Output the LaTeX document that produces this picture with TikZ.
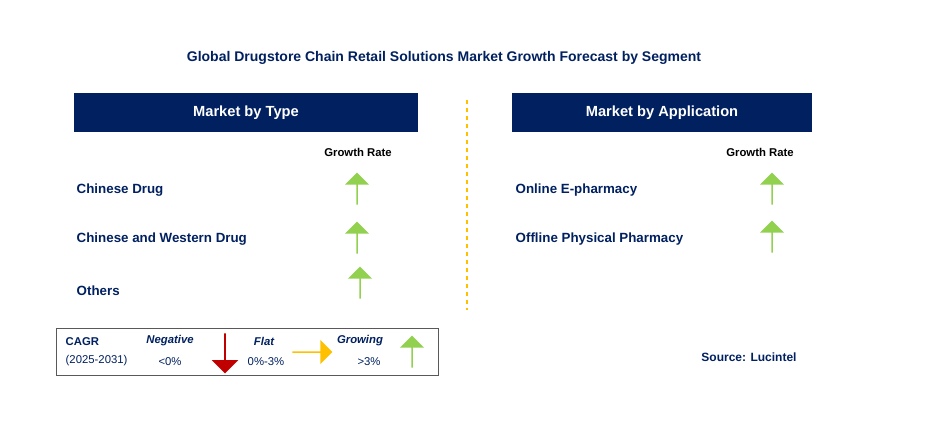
\documentclass[tikz,border=0pt]{standalone}
\usepackage{fontspec}
\setmainfont{Liberation Sans}
\usetikzlibrary{shapes.arrows}
\definecolor{navy}{RGB}{0,32,96}
\definecolor{upgreen}{RGB}{146,208,80}
\definecolor{downred}{RGB}{192,0,0}
\definecolor{flatyellow}{RGB}{255,192,0}
\tikzset{
  header/.style={fill=navy,text=white,font=\bfseries\fontsize{11}{13}\selectfont},
  item/.style={anchor=west,text=navy,font=\bfseries\fontsize{10}{12}\selectfont},
  rate/.style={text=black,font=\bfseries\fontsize{8.5}{10}\selectfont},
  uparrow/.style={single arrow,fill=upgreen,draw=none,rotate=90,minimum height=24pt,minimum width=18pt,single arrow head extend=3pt,inner sep=0pt},
  legend/.style={text=navy,font=\fontsize{8.5}{10}\selectfont},
  legendhead/.style={text=navy,font=\bfseries\itshape\fontsize{8.5}{10}\selectfont}
}
\begin{document}
\begin{tikzpicture}[x=0.75pt,y=-0.75pt]
  \useasboundingbox (0,0) rectangle (941,441);
  \node[text=navy,font=\bfseries\fontsize{10.5}{12}\selectfont] (title) at (444,58) {Global Drugstore Chain Retail Solutions Market Growth Forecast by Segment};

  % left panel
  \path[header] (74,93) rectangle (418,132);
  \node[header] (typehead) at (246,112.5) {Market by Type};
  \node[rate] (typerate) at (358,152) {Growth Rate};
  \node[item] (t1) at (72,190) {Chinese Drug};
  \node[item] (t2) at (72,239) {Chinese and Western Drug};
  \node[item] (t3) at (72,291) {Others};
  \node[uparrow] (a1) at (357,189) {};
  \node[uparrow] (a2) at (357,238) {};
  \node[uparrow] (a3) at (360,283) {};

  % divider
  \draw[flatyellow,dashed,line width=1pt] (467,100) -- (467,310);

  % right panel
  \path[header] (512,93) rectangle (812,132);
  \node[header] (apphead) at (662,112.5) {Market by Application};
  \node[rate] (apprate) at (760,152) {Growth Rate};
  \node[item] (p1) at (511,190) {Online E-pharmacy};
  \node[item] (p2) at (511,239) {Offline Physical Pharmacy};
  \node[uparrow] (b1) at (772,189) {};
  \node[uparrow] (b2) at (772,237) {};

  % legend
  \draw[gray!70!black] (56,328) rectangle (438,375);
  \node[legend,font=\bfseries\fontsize{8.5}{10}\selectfont,anchor=west] (cagr) at (61,342) {CAGR};
  \node[legend,anchor=west] (years) at (61,361) {(2025-2031)};
  \node[legendhead] (neg) at (170,341) {Negative};
  \node[legend] (negv) at (170,362) {<0\%};
  \node[single arrow,fill=downred,rotate=-90,minimum height=30pt,minimum width=20pt,single arrow head extend=3pt,inner sep=0pt] (down) at (225,353) {};
  \node[legendhead] (flat) at (264,341) {Flat};
  \node[legend] (flatv) at (266,362) {0\%-3\%};
  \node[single arrow,fill=flatyellow,minimum height=30pt,minimum width=18pt,single arrow head extend=3pt,inner sep=0pt] (side) at (312,352) {};
  \node[legendhead] (grow) at (360,341) {Growing};
  \node[legend] (growv) at (369,362) {>3\%};
  \node[uparrow] (up) at (412,352) {};

  \node[text=navy,font=\bfseries\fontsize{9}{11}\selectfont] (source) at (749,357) {Source: Lucintel};
\end{tikzpicture}
\end{document}
